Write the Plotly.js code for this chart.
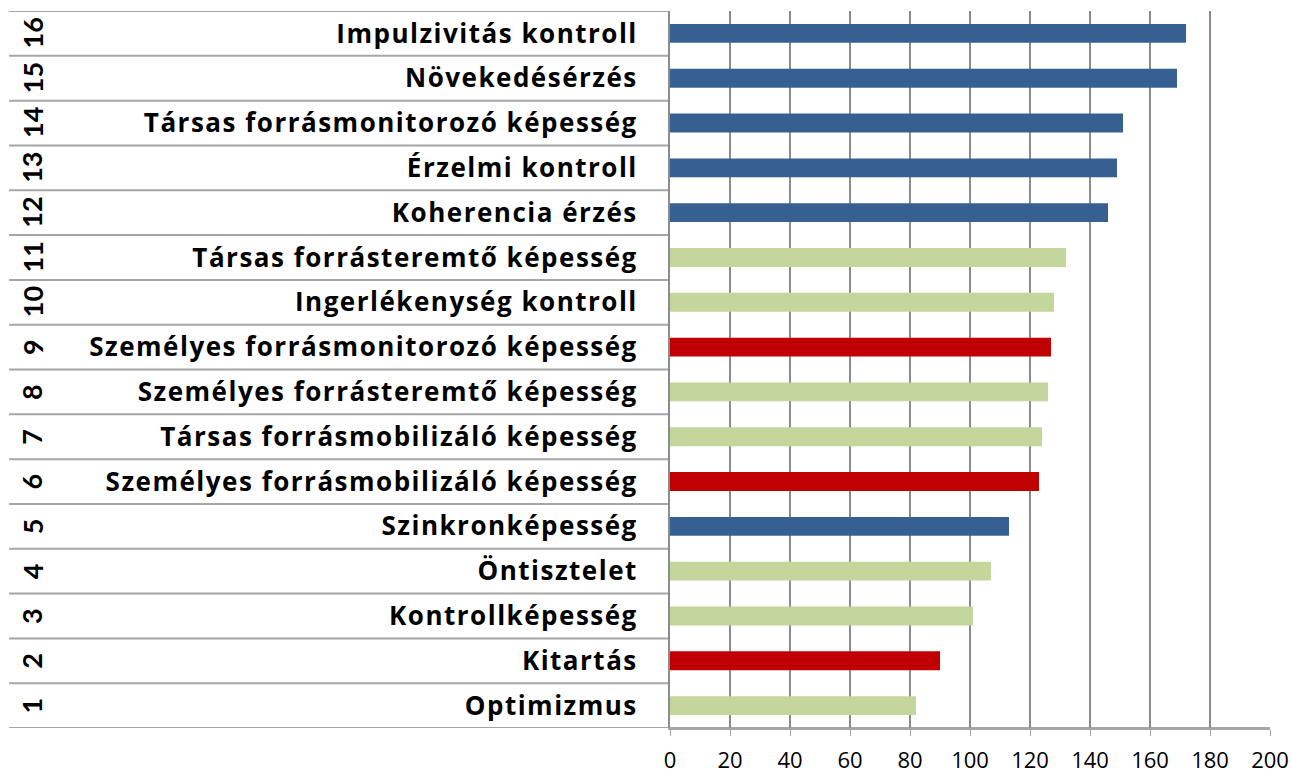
<!DOCTYPE html>
<html><head><meta charset="utf-8">
<script src="https://cdn.plot.ly/plotly-3.0.1.min.js"></script>
<style>html,body{margin:0;padding:0;background:#fff;}#chart{width:1291px;height:773px;}
#chart .ytick text{letter-spacing:1.5px;}</style>
</head><body><div id="chart"></div>
<script>
const numbers = ["1","2","3","4","5","6","7","8","9","10","11","12","13","14","15","16"];
const labels = ["Optimizmus","Kitartás","Kontrollképesség","Öntisztelet","Szinkronképesség",
  "Személyes forrásmobilizáló képesség","Társas forrásmobilizáló képesség","Személyes forrásteremtő képesség",
  "Személyes forrásmonitorozó képesség","Ingerlékenység kontroll","Társas forrásteremtő képesség",
  "Koherencia érzés","Érzelmi kontroll","Társas forrásmonitorozó képesség","Növekedésérzés","Impulzivitás kontroll"];
const values = [82,90,101,107,113,123,124,126,127,128,132,146,149,151,169,172];
const groups = ["g","r","g","g","b","r","g","g","r","g","g","b","b","b","b","b"];
const groupColors = {b:"#366092", g:"#c3d69b", r:"#c00000"};

const labelLeft = -661/600;   // separator start, in plot-width fractions
const numX = -638/600;

const shapes = [];
for (let i = 0; i <= numbers.length; i++) {
  shapes.push({type:"line", xref:"paper", yref:"y", x0:labelLeft, x1: i===0 ? 1 : 0,
    y0:i-0.5, y1:i-0.5, line:{color:"#a6a6a6", width:2}, layer:"below"});
}
const annotations = numbers.map((n,i)=>({xref:"paper", yref:"y", x:numX, y:i, text:"<b>"+n+"</b>",
  textangle:-90, showarrow:false, xanchor:"center", yanchor:"middle",
  font:{family:"Lato, sans-serif", size:27, color:"#000"}}));

Plotly.newPlot("chart", [{
  type:"bar", orientation:"h", y:numbers, x:values,
  marker:{color:groups.map(g=>groupColors[g])}, width:0.42, hoverinfo:"x"
}], {
  width:1291, height:773, margin:{l:670, r:21, t:11, b:45},
  paper_bgcolor:"#fff", plot_bgcolor:"#fff", showlegend:false,
  xaxis:{range:[0,200], dtick:20, tick0:0, showgrid:true, gridcolor:"#8c8c8c", gridwidth:1.5,
    zeroline:false, showline:true, linecolor:"#a6a6a6", linewidth:2, ticks:"outside", ticklen:6,
    tickcolor:"#a6a6a6", ticklabelstandoff:6,
    tickfont:{family:"Open Sans, sans-serif", size:22, color:"#000"}, fixedrange:true},
  yaxis:{type:"category", categoryorder:"array", categoryarray:numbers, tickvals:numbers,
    ticktext:labels.map(l=>"<b>"+l+"</b>"), showgrid:false, zeroline:false, showline:true,
    linecolor:"#8c8c8c", linewidth:2, ticks:"", ticklabelstandoff:25,
    tickfont:{family:"Open Sans, sans-serif", size:26, color:"#000"}, range:[-0.5,15.5], fixedrange:true},
  shapes:shapes, annotations:annotations
}, {displayModeBar:false, staticPlot:true});
</script></body></html>
